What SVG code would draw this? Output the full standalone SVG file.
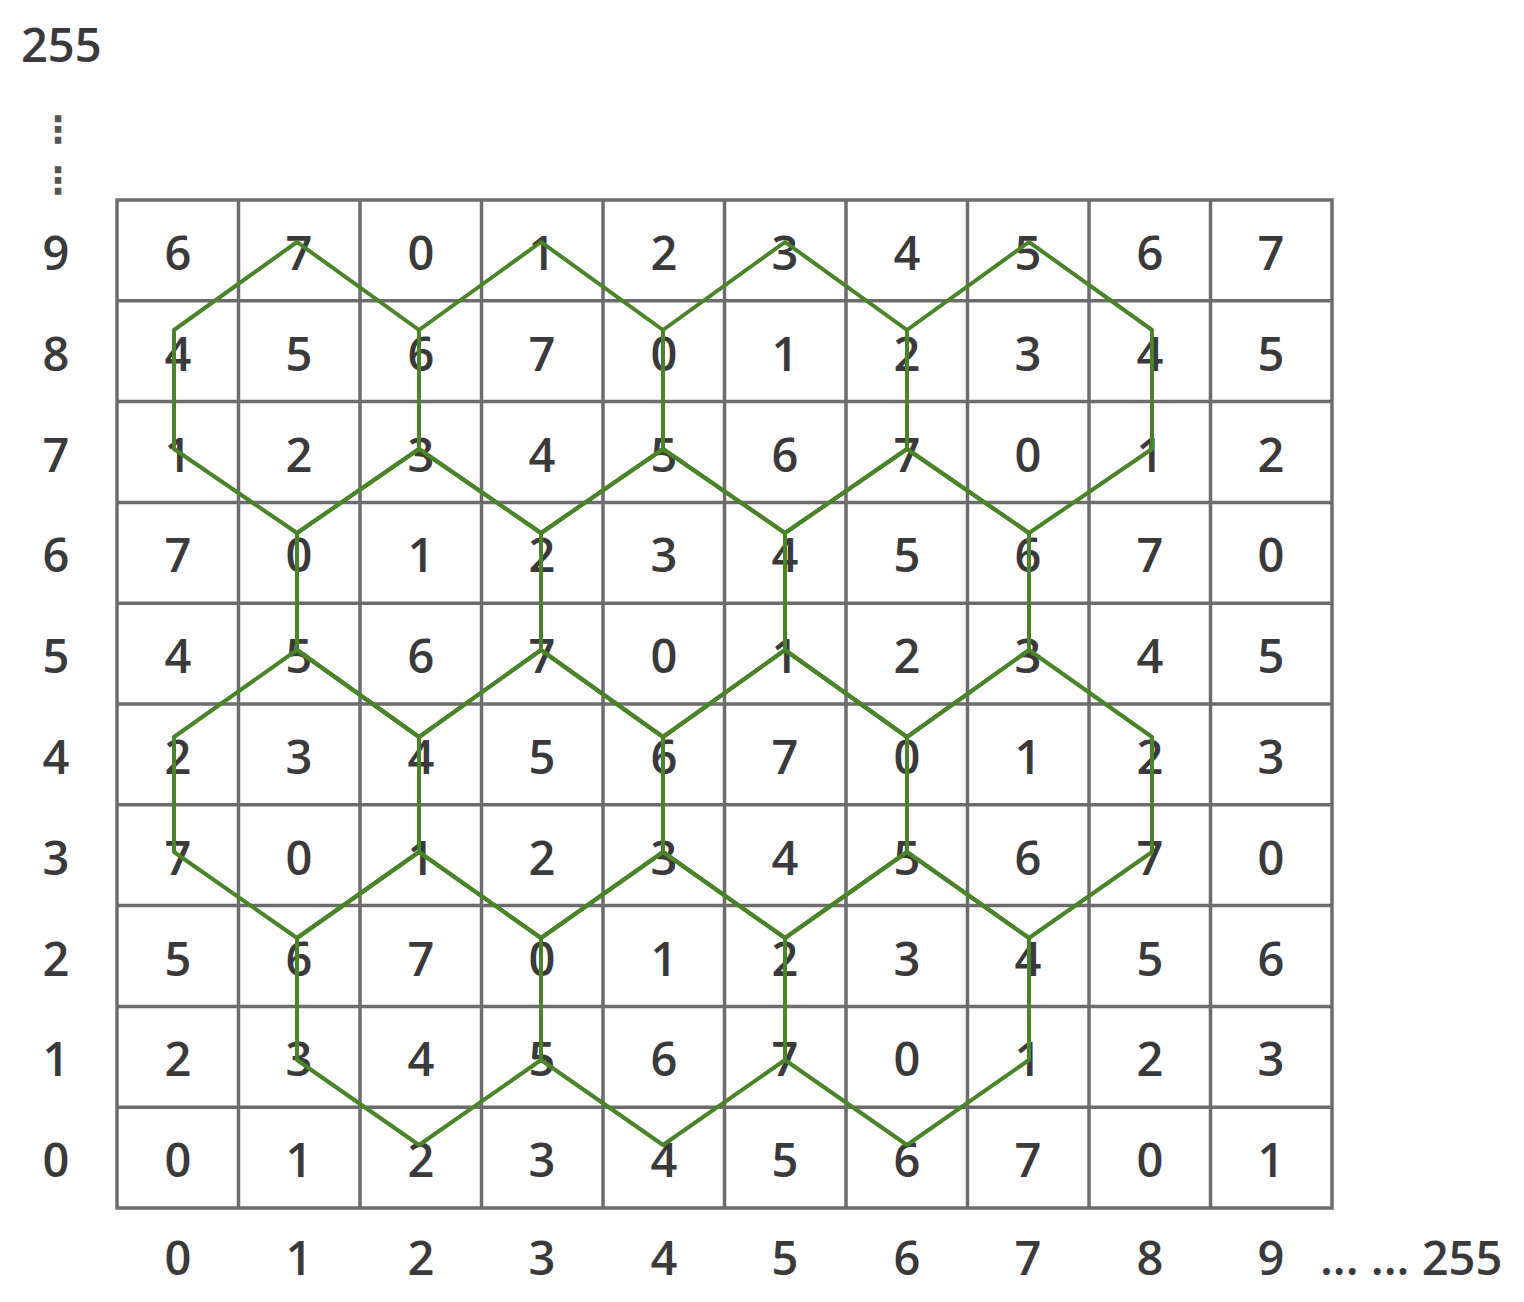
<svg xmlns="http://www.w3.org/2000/svg" width="1524" height="1302" viewBox="0 0 1524 1302">
<style>
.t{font-family:"Open Sans","Liberation Sans",sans-serif;font-size:47px;font-weight:600;fill:#3a3a3a;text-anchor:middle}
.s{font-family:"Open Sans","Liberation Sans",sans-serif;font-size:47px;font-weight:600;fill:#3a3a3a}
.g{stroke:#6c6c6c;stroke-width:3.5;fill:none}
.h{stroke:#4a8428;stroke-width:4;fill:none;stroke-linejoin:round}
.v{font-family:"DejaVu Sans",sans-serif;font-size:36px;font-weight:bold;fill:#555;text-anchor:middle}
</style>
<rect width="1524" height="1302" fill="#fff"/>
<g id="axes">
<text class="s" x="21" y="62">255</text>
<text class="v" x="58" y="142">⋮</text>
<text class="v" x="58" y="193">⋮</text>
<text class="t" x="56" y="270">9</text>
<text class="t" x="56" y="371">8</text>
<text class="t" x="56" y="472">7</text>
<text class="t" x="56" y="572">6</text>
<text class="t" x="56" y="673">5</text>
<text class="t" x="56" y="774">4</text>
<text class="t" x="56" y="875">3</text>
<text class="t" x="56" y="976">2</text>
<text class="t" x="56" y="1076">1</text>
<text class="t" x="56" y="1177">0</text>
<text class="t" x="178" y="1275">0</text>
<text class="t" x="299" y="1275">1</text>
<text class="t" x="421" y="1275">2</text>
<text class="t" x="542" y="1275">3</text>
<text class="t" x="664" y="1275">4</text>
<text class="t" x="785" y="1275">5</text>
<text class="t" x="907" y="1275">6</text>
<text class="t" x="1028" y="1275">7</text>
<text class="t" x="1150" y="1275">8</text>
<text class="t" x="1271" y="1275">9</text>
<text class="s" x="1320" y="1275">... ... 255</text>
</g>
<g id="grid" class="g">
<rect x="117" y="200" width="1215" height="1008"/>
<path d="M238.5 200V1208M360 200V1208M481.5 200V1208M603 200V1208M724.5 200V1208M846 200V1208M967.5 200V1208M1089 200V1208M1210.5 200V1208"/>
<path d="M117 300.8H1332M117 401.6H1332M117 502.4H1332M117 603.2H1332M117 704H1332M117 804.8H1332M117 905.6H1332M117 1006.4H1332M117 1107.2H1332"/>
</g>
<g id="cells">
<g id="row9"><text class="t" x="178" y="270">6</text><text class="t" x="299" y="270">7</text><text class="t" x="421" y="270">0</text><text class="t" x="542" y="270">1</text><text class="t" x="664" y="270">2</text><text class="t" x="785" y="270">3</text><text class="t" x="907" y="270">4</text><text class="t" x="1028" y="270">5</text><text class="t" x="1150" y="270">6</text><text class="t" x="1271" y="270">7</text></g>
<g id="row8"><text class="t" x="178" y="371">4</text><text class="t" x="299" y="371">5</text><text class="t" x="421" y="371">6</text><text class="t" x="542" y="371">7</text><text class="t" x="664" y="371">0</text><text class="t" x="785" y="371">1</text><text class="t" x="907" y="371">2</text><text class="t" x="1028" y="371">3</text><text class="t" x="1150" y="371">4</text><text class="t" x="1271" y="371">5</text></g>
<g id="row7"><text class="t" x="178" y="472">1</text><text class="t" x="299" y="472">2</text><text class="t" x="421" y="472">3</text><text class="t" x="542" y="472">4</text><text class="t" x="664" y="472">5</text><text class="t" x="785" y="472">6</text><text class="t" x="907" y="472">7</text><text class="t" x="1028" y="472">0</text><text class="t" x="1150" y="472">1</text><text class="t" x="1271" y="472">2</text></g>
<g id="row6"><text class="t" x="178" y="572">7</text><text class="t" x="299" y="572">0</text><text class="t" x="421" y="572">1</text><text class="t" x="542" y="572">2</text><text class="t" x="664" y="572">3</text><text class="t" x="785" y="572">4</text><text class="t" x="907" y="572">5</text><text class="t" x="1028" y="572">6</text><text class="t" x="1150" y="572">7</text><text class="t" x="1271" y="572">0</text></g>
<g id="row5"><text class="t" x="178" y="673">4</text><text class="t" x="299" y="673">5</text><text class="t" x="421" y="673">6</text><text class="t" x="542" y="673">7</text><text class="t" x="664" y="673">0</text><text class="t" x="785" y="673">1</text><text class="t" x="907" y="673">2</text><text class="t" x="1028" y="673">3</text><text class="t" x="1150" y="673">4</text><text class="t" x="1271" y="673">5</text></g>
<g id="row4"><text class="t" x="178" y="774">2</text><text class="t" x="299" y="774">3</text><text class="t" x="421" y="774">4</text><text class="t" x="542" y="774">5</text><text class="t" x="664" y="774">6</text><text class="t" x="785" y="774">7</text><text class="t" x="907" y="774">0</text><text class="t" x="1028" y="774">1</text><text class="t" x="1150" y="774">2</text><text class="t" x="1271" y="774">3</text></g>
<g id="row3"><text class="t" x="178" y="875">7</text><text class="t" x="299" y="875">0</text><text class="t" x="421" y="875">1</text><text class="t" x="542" y="875">2</text><text class="t" x="664" y="875">3</text><text class="t" x="785" y="875">4</text><text class="t" x="907" y="875">5</text><text class="t" x="1028" y="875">6</text><text class="t" x="1150" y="875">7</text><text class="t" x="1271" y="875">0</text></g>
<g id="row2"><text class="t" x="178" y="976">5</text><text class="t" x="299" y="976">6</text><text class="t" x="421" y="976">7</text><text class="t" x="542" y="976">0</text><text class="t" x="664" y="976">1</text><text class="t" x="785" y="976">2</text><text class="t" x="907" y="976">3</text><text class="t" x="1028" y="976">4</text><text class="t" x="1150" y="976">5</text><text class="t" x="1271" y="976">6</text></g>
<g id="row1"><text class="t" x="178" y="1076">2</text><text class="t" x="299" y="1076">3</text><text class="t" x="421" y="1076">4</text><text class="t" x="542" y="1076">5</text><text class="t" x="664" y="1076">6</text><text class="t" x="785" y="1076">7</text><text class="t" x="907" y="1076">0</text><text class="t" x="1028" y="1076">1</text><text class="t" x="1150" y="1076">2</text><text class="t" x="1271" y="1076">3</text></g>
<g id="row0"><text class="t" x="178" y="1177">0</text><text class="t" x="299" y="1177">1</text><text class="t" x="421" y="1177">2</text><text class="t" x="542" y="1177">3</text><text class="t" x="664" y="1177">4</text><text class="t" x="785" y="1177">5</text><text class="t" x="907" y="1177">6</text><text class="t" x="1028" y="1177">7</text><text class="t" x="1150" y="1177">0</text><text class="t" x="1271" y="1177">1</text></g>
</g>
<g id="hexagons" class="h">
<polygon points="297,242 419,330 419,449 297,533 174,449 174,330"/>
<polygon points="541,242 663,330 663,449 541,533 419,449 419,330"/>
<polygon points="785,242 907,330 907,449 785,533 663,449 663,330"/>
<polygon points="1029,242 1152,330 1152,449 1029,533 907,449 907,330"/>
<polygon points="419,449 541,533 541,650 419,737 297,650 297,533"/>
<polygon points="663,449 785,533 785,650 663,737 541,650 541,533"/>
<polygon points="907,449 1029,533 1029,650 907,737 785,650 785,533"/>
<polygon points="297,650 419,737 419,852 297,938 174,852 174,737"/>
<polygon points="541,650 663,737 663,852 541,938 419,852 419,737"/>
<polygon points="785,650 907,737 907,852 785,938 663,852 663,737"/>
<polygon points="1029,650 1152,737 1152,852 1029,938 907,852 907,737"/>
<polygon points="419,852 541,938 541,1060 419,1145 297,1060 297,938"/>
<polygon points="663,852 785,938 785,1060 663,1145 541,1060 541,938"/>
<polygon points="907,852 1029,938 1029,1060 907,1145 785,1060 785,938"/>
</g>
</svg>
